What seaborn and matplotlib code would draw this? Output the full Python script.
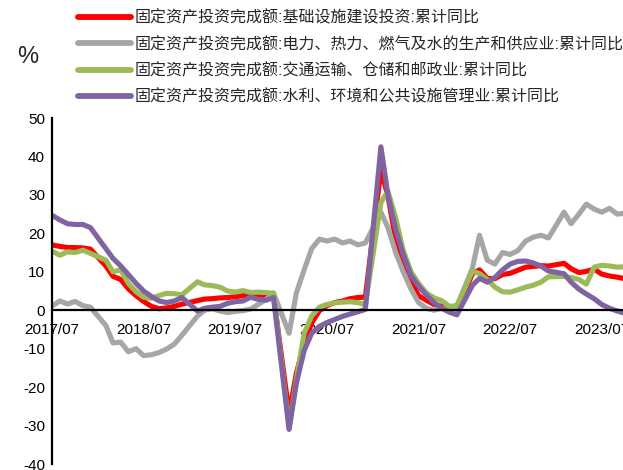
import pandas as pd
import matplotlib
matplotlib.use("Agg")
import matplotlib.pyplot as plt
import matplotlib.dates as mdates
import seaborn as sns

# 月份(累计同比, 1月不单独公布)
months = (["2017-%02d" % m for m in range(7, 13)]
          + ["%d-%02d" % (y, m) for y in range(2018, 2023) for m in range(2, 13)]
          + ["2023-%02d" % m for m in range(2, 11)])

infra = [17.0, 16.6, 16.3, 16.3, 16.2, 15.9,
         11.5, 8.8, 8.0, 5.6, 3.8, 2.3, 1.0, 0.4, 0.6, 1.0, 1.6,
         2.5, 2.9, 3.0, 3.2, 3.3, 3.5, 3.8, 4.0, 3.9, 3.8, 3.8,
         -26.9, -16.4, -8.8, -3.3, -0.1, 1.2, 2.0, 2.4, 3.0, 3.3, 3.4,
         36.6, 29.7, 18.4, 11.8, 7.8, 3.8, 2.6, 1.5, 1.0, 0.5, 0.4,
         9.5, 10.5, 8.3, 8.2, 9.3, 9.6, 10.4, 11.2, 11.4, 11.6, 11.5,
         12.2, 10.8, 9.8, 10.1, 10.7, 9.4, 8.9, 8.6, 8.2]

power = [1.1, 2.4, 1.6, 2.3, 1.2, 0.8,
         -4.0, -8.5, -8.3, -10.8, -10.0, -11.8, -11.6, -11.0, -10.1, -8.8, -6.5,
         -1.5, 0.0, 0.4, -0.2, -0.6, -0.3, -0.1, 0.3, 1.5, 2.8, 4.5,
         -6.0, 4.5, 10.5, 16.0, 18.5, 18.0, 18.5, 17.5, 18.0, 17.0, 17.5,
         25.5, 21.5, 15.0, 10.0, 5.5, 2.0, 0.5, 0.0, 0.5, 0.2, 1.0,
         11.0, 19.5, 13.0, 12.0, 15.0, 14.5, 15.5, 18.0, 19.0, 19.5, 18.8,
         25.5, 22.5, 25.0, 27.6, 26.3, 25.5, 26.5, 25.0, 25.2]

transport = [15.4, 14.3, 15.2, 15.0, 15.6, 14.8,
             13.0, 10.0, 10.5, 7.0, 4.8, 3.4, 3.1, 3.8, 4.4, 4.3, 4.0,
             7.4, 6.6, 6.4, 6.0, 5.0, 4.7, 5.1, 4.6, 4.7, 4.6, 4.4,
             -30.5, -18.0, -6.0, -1.5, 0.8, 1.5, 1.9, 2.1, 2.2, 2.0, 1.4,
             28.0, 31.0, 24.0, 15.5, 10.0, 7.0, 4.5, 3.2, 2.5, 1.0, 1.2,
             10.2, 9.5, 8.0, 6.0, 4.8, 4.7, 5.3, 6.0, 6.5, 7.3, 8.7,
             8.8, 8.5, 8.0, 6.8, 11.2, 11.7, 11.5, 11.2, 11.3]

water = [24.7, 23.5, 22.5, 22.3, 22.3, 21.5,
         16.0, 13.5, 11.5, 9.3, 7.0, 5.0, 3.6, 2.4, 2.0, 2.4, 3.3,
         -0.2, 0.5, 0.8, 1.0, 1.8, 2.2, 2.4, 3.4, 2.8, 2.6, 3.3,
         -31.0, -19.0, -10.5, -6.0, -4.2, -3.2, -2.4, -1.6, -1.0, -0.4, 0.2,
         42.5, 30.0, 21.0, 14.5, 9.0, 6.3, 4.0, 2.0, 0.5, -0.5, -1.2,
         6.5, 8.3, 7.3, 8.5, 10.5, 12.0, 12.7, 12.8, 12.3, 11.5, 10.2,
         9.5, 7.3, 5.5, 4.2, 3.0, 1.5, 0.5, -0.2, -0.8]

labels = ["固定资产投资完成额:基础设施建设投资:累计同比",
          "固定资产投资完成额:电力、热力、燃气及水的生产和供应业:累计同比",
          "固定资产投资完成额:交通运输、仓储和邮政业:累计同比",
          "固定资产投资完成额:水利、环境和公共设施管理业:累计同比"]
colors = ["#FF0000", "#A6A6A6", "#9BBB59", "#8064A2"]

dates = pd.to_datetime(months)
df = pd.DataFrame({"date": dates, labels[0]: infra, labels[1]: power,
                   labels[2]: transport, labels[3]: water})
long_df = df.melt(id_vars="date", var_name="series", value_name="value")

sns.set_style("white")
plt.rcParams["font.family"] = ["Liberation Sans", "Noto Sans CJK SC", "DejaVu Sans"]
plt.rcParams["axes.unicode_minus"] = False

fig = plt.figure(figsize=(6.23, 4.70), dpi=100)
ax = fig.add_axes([52 / 623, 1 - 464 / 470, 1 - 52 / 623, (464 - 118) / 470])

sns.lineplot(data=long_df, x="date", y="value", hue="series", hue_order=labels,
             palette=colors, linewidth=3.7, ax=ax, legend=False)

ax.set_ylim(-40, 50)
ax.set_yticks(range(-40, 51, 10))
ax.set_xlim(pd.Timestamp("2017-07-01"), pd.Timestamp("2023-09-24"))
ax.xaxis.set_major_locator(mdates.MonthLocator(bymonth=7))
ax.xaxis.set_major_formatter(mdates.DateFormatter("%Y/%m"))
ax.set_xlabel("")
ax.set_ylabel("")

ax.spines["top"].set_visible(False)
ax.spines["right"].set_visible(False)
ax.spines["bottom"].set_position(("data", 0))
for side in ["left", "bottom"]:
    ax.spines[side].set_linewidth(1.6)
    ax.spines[side].set_color("black")
ax.tick_params(axis="both", direction="in", length=4, width=1.2, labelsize=11,
               colors="black")
ax.tick_params(axis="x", pad=9)
ax.tick_params(axis="y", pad=5)

handles = [plt.Line2D([], [], color=c, linewidth=4.2) for c in colors]
fig.legend(handles, labels, loc="upper left", bbox_to_anchor=(78 / 623, 1 - 10 / 470),
           frameon=False, fontsize=11.5, handlelength=3.3, handletextpad=0.22,
           labelspacing=0.68, borderpad=0, borderaxespad=0)

fig.text(28 / 623, 1 - 57 / 470, "%", fontsize=17, ha="center", va="center")

fig.savefig("out.png", dpi=100)
